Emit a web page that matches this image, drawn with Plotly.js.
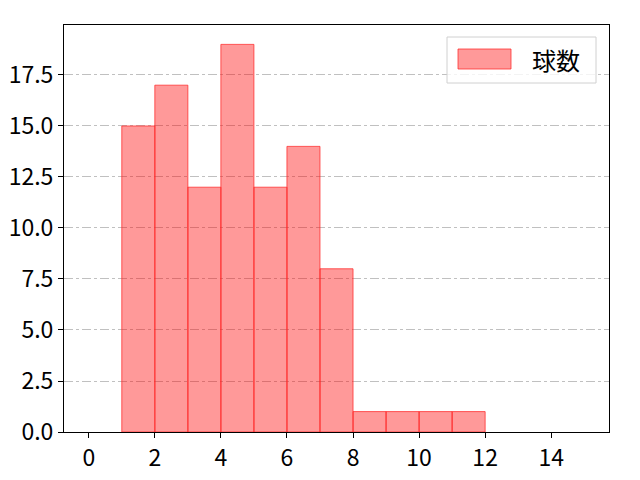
<!DOCTYPE html>
<html>
<head>
<meta charset="utf-8">
<script src="https://cdn.plot.ly/plotly-3.0.1.min.js"></script>
<style>body{margin:0;background:#fff;} #graph{width:640px;height:480px;}</style>
</head>
<body>
<div id="graph"></div>
<script>
// histogram bins (left edge) and pitch counts
const binStarts = [1, 2, 3, 4, 5, 6, 7, 8, 9, 10, 11];
const counts = [15, 17, 12, 19, 12, 14, 8, 1, 1, 1, 1];
const seriesName = '球数';
const xTicks = [0, 2, 4, 6, 8, 10, 12, 14];
const yTicks = [0, 2.5, 5, 7.5, 10, 12.5, 15, 17.5];

const fontFam = '"Noto Sans CJK JP", "DejaVu Sans", sans-serif';

var trace = {
    type: 'bar',
    x: binStarts,
    y: counts,
    width: 1,
    offset: 0,
    name: seriesName,
    marker: {
        color: 'rgba(255,0,0,0.4)',
        line: {color: 'rgba(255,40,40,0.75)', width: 1}
    },
    hoverinfo: 'skip'
};

var layout = {
    width: 640,
    height: 480,
    showlegend: false,
    paper_bgcolor: '#fff',
    plot_bgcolor: '#fff',
    margin: {l: 64, r: 31, t: 25, b: 48, pad: 0},
    font: {family: fontFam, size: 23, color: '#000'},
    bargap: 0,
    xaxis: {
        range: [-0.75, 15.75],
        tickvals: xTicks,
        ticktext: xTicks.map(String),
        tickfont: {family: fontFam, size: 23, color: '#000'},
        ticks: 'outside',
        ticklen: 5,
        tickcolor: '#000',
        showgrid: false,
        zeroline: false,
        showline: true,
        linecolor: '#000',
        linewidth: 1,
        mirror: true
    },
    yaxis: {
        range: [0, 19.95],
        tickvals: yTicks,
        ticktext: yTicks.map(v => v.toFixed(1)),
        tickfont: {family: fontFam, size: 23, color: '#000'},
        ticks: 'outside',
        ticklen: 5,
        tickcolor: '#000',
        showgrid: true,
        gridcolor: '#b0b0b0',
        gridwidth: 0.8,
        griddash: 'dashdot',
        zeroline: false,
        showline: true,
        linecolor: '#000',
        linewidth: 1,
        mirror: true
    },
    shapes: [
        // legend frame
        {type: 'rect', xref: 'paper', yref: 'paper',
         x0: (447 - 64) / 545, x1: (596 - 64) / 545,
         y0: (432 - 83) / 407, y1: (432 - 37) / 407,
         line: {color: '#d0d0d0', width: 1}, fillcolor: 'rgba(255,255,255,0.8)', layer: 'above'},
        // legend patch
        {type: 'rect', xref: 'paper', yref: 'paper',
         x0: (458 - 64) / 545, x1: (511 - 64) / 545,
         y0: (432 - 69) / 407, y1: (432 - 49) / 407,
         line: {color: 'rgba(255,40,40,0.75)', width: 1}, fillcolor: 'rgba(255,0,0,0.4)', layer: 'above'}
    ],
    annotations: [
        {xref: 'paper', yref: 'paper', x: (530 - 64) / 545, y: (432 - 59) / 407,
         xanchor: 'left', yanchor: 'middle', showarrow: false,
         text: seriesName, font: {family: fontFam, size: 24, color: '#000'}}
    ]
};

Plotly.newPlot('graph', [trace], layout, {displayModeBar: false, staticPlot: true});
</script>
</body>
</html>
